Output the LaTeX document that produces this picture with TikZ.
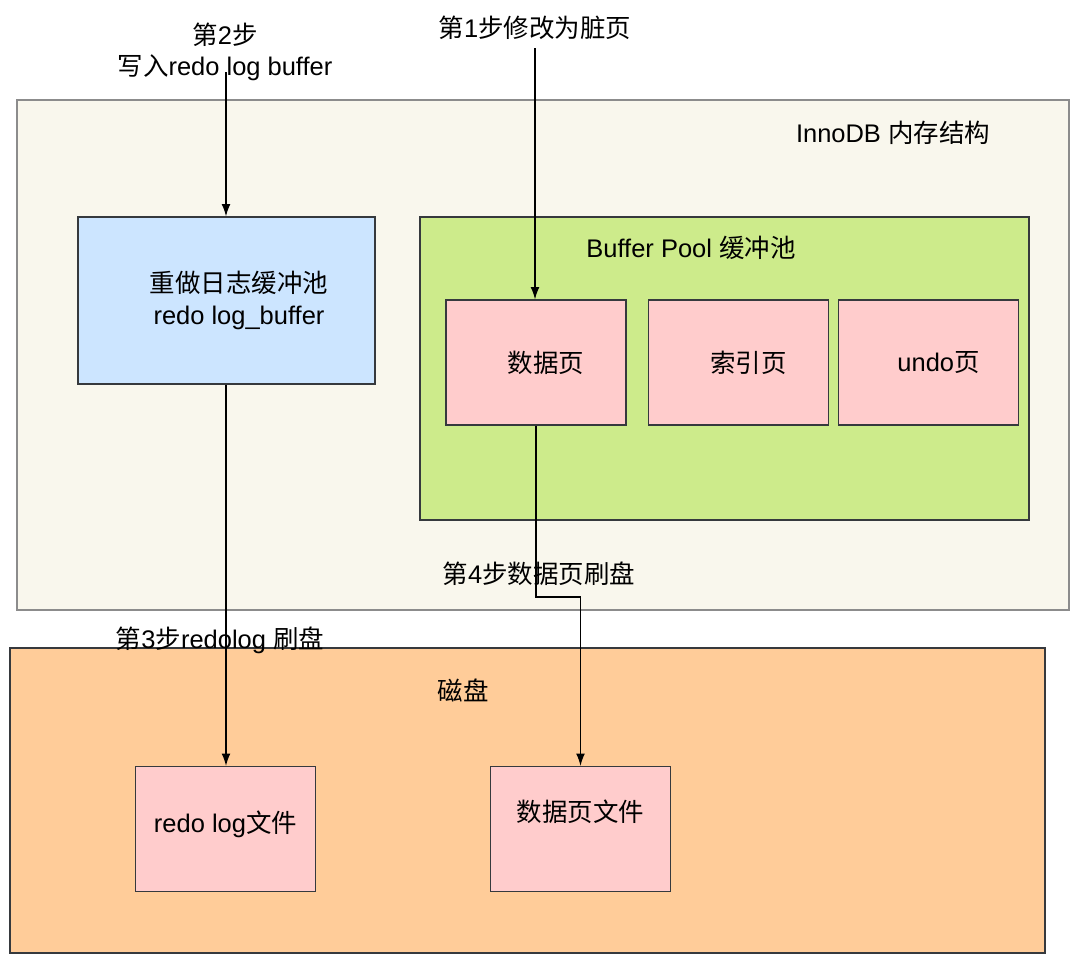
\documentclass[tikz,border=0pt]{standalone}
\usepackage{fontspec}
\setmainfont{Liberation Sans}
\newfontfamily\zh{Noto Sans CJK SC}
\usetikzlibrary{arrows.meta}

\definecolor{memfill}{HTML}{F9F7ED}
\definecolor{bluefill}{HTML}{CCE5FF}
\definecolor{greenfill}{HTML}{CDEB8B}
\definecolor{pinkfill}{HTML}{FFCCCC}
\definecolor{diskfill}{HTML}{FFCC99}
\definecolor{edge}{HTML}{36393D}

\tikzset{
  box/.style={draw=edge, line width=0.7pt, inner sep=0pt, align=center},
  page/.style={box, fill=pinkfill, minimum width=3.6cm, minimum height=2.5cm},
  flow/.style={line width=0.7pt, -{Latex[length=7pt,width=5pt]}}
}

\begin{document}
\begin{tikzpicture}[x=0.02cm, y=-0.02cm, font=\fontsize{14.5}{18}\selectfont]
    \useasboundingbox (0,0) rectangle (1080,964);
    % memory and disk
    \node [box, draw=gray!90, fill=memfill, minimum width=21.04cm, minimum height=10.2cm] (mem) at (543,355) {};
    \node (memtitle) at (893,133) {InnoDB {\zh 内存结构}};
    \node [box, fill=diskfill, minimum width=20.7cm, minimum height=6.1cm] (disk) at (527.5,800.5) {};
    \node (disktitle) at (463,690) {\zh 磁盘};

    \node [box, fill=bluefill, minimum width=5.94cm, minimum height=3.34cm] (redobuf) at (226.5,300.5)
        {\hspace*{5mm}{\zh 重做日志缓冲池}\\\hspace*{5mm}redo log\_buffer};

    \node [box, fill=greenfill, minimum width=12.18cm, minimum height=6.06cm] (pool) at (724.5,368.5) {};
    \node (pooltitle) at (691,248) {Buffer Pool {\zh 缓冲池}};
    \node [page] (datapage) at (536,362.5) {\hspace*{4mm}{\zh 数据页}};
    \node [page] (idxpage) at (738.5,362.5) {\hspace*{4mm}{\zh 索引页}};
    \node [page] (undopage) at (928.5,362.5) {\hspace*{4mm}undo{\zh 页}};

    \node [page] (redofile) at (225.5,829) {\raisebox{2.8mm}{redo log{\zh 文件}}};
    \node [page] (datafile) at (580.5,829) {\raisebox{7.2mm}{\zh 数据页文件}};

    % steps
    \node (step1) at (535,28) {{\zh 第}1{\zh 步修改为脏页}};
    \node [align=center] (step2) at (225,52) {{\zh 第}2{\zh 步}\\{\zh 写入}redo log buffer};
    \node (step3) at (220,640) {{\zh 第}3{\zh 步}redolog {\zh 刷盘}};
    \node (step4) at (539,574) {{\zh 第}4{\zh 步数据页刷盘}};

    \coordinate (s1) at (535,48);
    \coordinate (s2) at (226,72);
    \coordinate (turn) at (536,597);
    \draw [flow] (s1) -- (datapage.north -| s1);
    \draw [flow] (s2) -- (redobuf.north -| s2);
    \draw [flow] (redobuf.south -| s2) -- (redofile.north -| s2);
    \draw [flow] (datapage.south) -- (turn) -| (datafile.north);
\end{tikzpicture}
\end{document}
